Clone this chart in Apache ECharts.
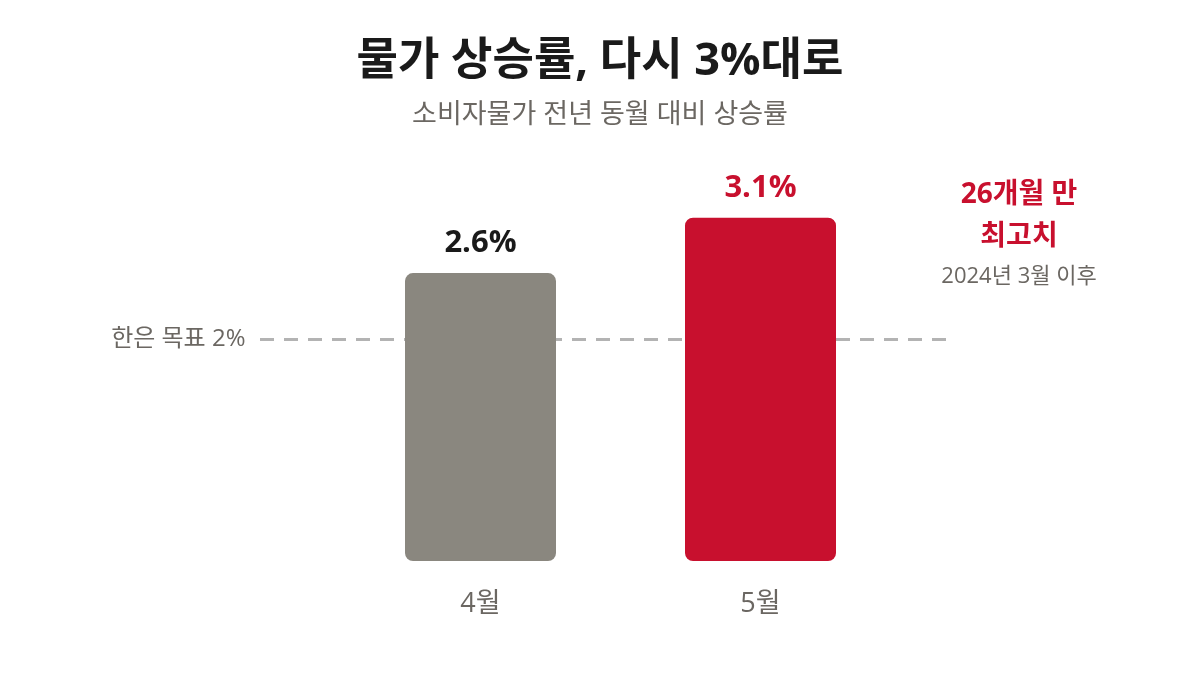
<!DOCTYPE html>
<html>
<head>
<meta charset="utf-8">
<script src="https://cdn.jsdelivr.net/npm/echarts@6/dist/echarts.min.js"></script>
<style>
  html, body { margin: 0; padding: 0; background: #ffffff; }
  #chart { width: 1200px; height: 675px; }
</style>
</head>
<body>
<div id="chart"></div>
<script>
// data
var months = ['4월', '5월'];
var cpiRates = [2.6, 3.1];
var targetRate = 2;
var targetLabel = '한은 목표 2%';

var FONT = '"Open Sans", "Noto Sans CJK KR", sans-serif';
var GREY_BAR = '#8a877f';
var RED = '#c8102e';
var TEXT_GREY = '#6b6762';

var chart = echarts.init(document.getElementById('chart'));

var yBase = {
    type: 'value',
    min: 0,
    max: 4,
    show: false
};

chart.setOption({
    backgroundColor: '#ffffff',
    animation: false,
    title: [{
        text: '물가 상승률, 다시 3%대로',
        left: 'center',
        top: 35,
        textStyle: { fontFamily: FONT, fontSize: 45, fontWeight: 'bold', color: '#1a1a1a' }
    }, {
        text: '소비자물가 전년 동월 대비 상승률',
        left: 'center',
        top: 97,
        textStyle: { fontFamily: FONT, fontSize: 27, fontWeight: 'normal', color: TEXT_GREY }
    }],
    // grid 0: bars, grid 1: the target line (wider span)
    grid: [
        { left: 340.5, width: 560, top: 118, bottom: 114 },
        { left: 260, width: 690, top: 118, bottom: 114 }
    ],
    xAxis: [{
        type: 'category',
        gridIndex: 0,
        data: months,
        axisLine: { show: false },
        axisTick: { show: false },
        axisLabel: {
            margin: 30,
            fontFamily: FONT,
            fontSize: 27,
            color: TEXT_GREY
        }
    }, {
        type: 'category',
        gridIndex: 1,
        boundaryGap: false,
        data: ['s', 'e'],
        show: false
    }],
    yAxis: [
        $extend(yBase, { gridIndex: 0 }),
        $extend(yBase, { gridIndex: 1 })
    ],
    series: [{
        type: 'line',
        xAxisIndex: 1,
        yAxisIndex: 1,
        z: 1,
        data: [targetRate, targetRate],
        symbol: 'none',
        lineStyle: { color: '#b3b3b3', width: 3, type: [14, 10] },
        label: { show: false },
        markPoint: {
            symbol: 'rect',
            symbolSize: 1,
            itemStyle: { color: 'transparent' },
            data: [{ coord: ['s', targetRate] }],
            label: {
                show: true,
                position: 'left',
                distance: 14,
                formatter: targetLabel,
                fontFamily: FONT,
                fontSize: 24,
                color: TEXT_GREY
            }
        }
    }, {
        type: 'bar',
        xAxisIndex: 0,
        yAxisIndex: 0,
        z: 2,
        barWidth: 151,
        data: cpiRates.map(function (v, i) {
            var last = i === cpiRates.length - 1;
            return {
                value: v,
                itemStyle: { color: last ? RED : GREY_BAR, borderRadius: 8 },
                label: { color: last ? RED : '#1a1a1a' }
            };
        }),
        label: {
            show: true,
            position: 'top',
            distance: 14,
            formatter: '{c}%',
            fontFamily: FONT,
            fontSize: 31,
            fontWeight: 'bold'
        }
    }],
    graphic: [{
        type: 'text',
        x: 1019,
        y: 174,
        style: {
            text: '26개월 만\n최고치',
            textAlign: 'center',
            textVerticalAlign: 'top',
            fill: RED,
            font: 'bold 28px ' + FONT,
            lineHeight: 42
        }
    }, {
        type: 'text',
        x: 1019,
        y: 266,
        style: {
            text: '2024년 3월 이후',
            textAlign: 'center',
            textVerticalAlign: 'top',
            fill: TEXT_GREY,
            font: '22px ' + FONT
        }
    }]
});

function $extend(base, extra) {
    var out = {};
    Object.keys(base).forEach(function (k) { out[k] = base[k]; });
    Object.keys(extra).forEach(function (k) { out[k] = extra[k]; });
    return out;
}
</script>
</body>
</html>
